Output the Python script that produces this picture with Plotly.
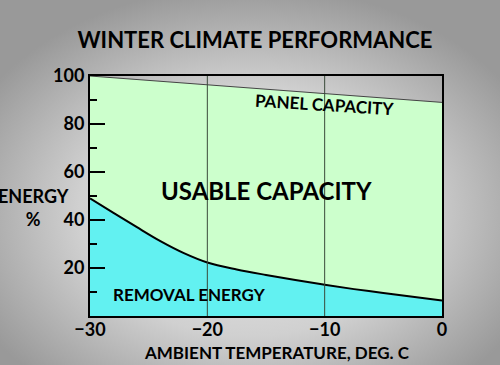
import base64
import plotly.graph_objects as go

# ---- data ----
temps_removal = [-30, -28, -26, -24, -22, -20, -17.5, -15, -12.5, -10, -7.5, -5, -2.5, 0]
removal_energy = [49, 43, 37, 31.2, 26.2, 22.3, 19.4, 17.1, 15, 13, 11.2, 9.6, 8, 6.5]
temps_panel = [-30, 0]
panel_capacity = [100, 89]
x_ticks = [-30, -20, -10, 0]
x_grid = [-20, -10]
y_ticks = [20, 40, 60, 80, 100]
y_minor = [10, 30, 50, 70, 90]

W, H = 500, 365
L, R, T, B = 90, 58, 76, 49
pw, ph = W - L - R, H - T - B

FONT = "Lato"
CYAN = "#62F1F1"
GREEN = "#CCFFCC"

# radial gray background
svg = f'''<svg xmlns="http://www.w3.org/2000/svg" width="{W}" height="{H}">
<defs><radialGradient id="g" cx="50%" cy="58%" r="62%">
<stop offset="0%" stop-color="#ececec"/><stop offset="55%" stop-color="#d0d0d0"/>
<stop offset="100%" stop-color="#999999"/></radialGradient></defs>
<rect width="{W}" height="{H}" fill="url(#g)"/></svg>'''
bg_src = "data:image/svg+xml;base64," + base64.b64encode(svg.encode()).decode()

fig = go.Figure()
fig.add_trace(go.Scatter(
    x=temps_removal, y=removal_energy, mode="lines", fill="tozeroy",
    fillcolor=CYAN, line=dict(color="black", width=2, shape="spline", smoothing=1),
    hoverinfo="skip", showlegend=False))
fig.add_trace(go.Scatter(
    x=temps_panel, y=panel_capacity, mode="lines", fill="tonexty",
    fillcolor=GREEN, line=dict(color="#444444", width=1),
    hoverinfo="skip", showlegend=False))

for gx in x_grid:
    fig.add_shape(type="line", xref="x", yref="y domain", x0=gx, x1=gx, y0=0, y1=1,
                  line=dict(color="#3a4a3a", width=1), layer="above")

fig.add_layout_image(dict(
    source=bg_src, xref="paper", yref="paper",
    x=-L / pw, y=1 + T / ph, sizex=W / pw, sizey=H / ph,
    sizing="stretch", xanchor="left", yanchor="top", layer="below"))

bold = dict(family=FONT, color="black", weight="bold")

def ann(text, x, y, size, xref="x", yref="y", angle=0):
    fig.add_annotation(text=text, x=x, y=y, xref=xref, yref=yref, showarrow=False,
                       font=dict(size=size, **bold), textangle=angle,
                       xanchor="center", yanchor="middle")

ann("USABLE CAPACITY", -15.0, 52.5, 24)
ann("PANEL CAPACITY", -10.0, 88.3, 17, angle=3.5)
ann("REMOVAL ENERGY", -21.5, 8.8, 17)
ann("ENERGY<br>%", (33 - L) / pw, (H - B - 207) / ph, 18, xref="paper", yref="paper")
ann("AMBIENT TEMPERATURE, DEG. C", (277 - L) / pw, -(352 - (H - B)) / ph, 17,
    xref="paper", yref="paper")

fig.update_layout(
    width=W, height=H,
    margin=dict(l=L, r=R, t=T, b=B, pad=0),
    paper_bgcolor="#c4c4c4", plot_bgcolor="rgba(0,0,0,0)",
    title=dict(text="WINTER CLIMATE PERFORMANCE", x=255 / W, y=1 - 40 / H,
               xanchor="center", yanchor="middle", font=dict(size=22, **bold)),
    xaxis=dict(range=[-30, 0], tickvals=x_ticks, ticks="", showgrid=False,
               zeroline=False, showline=True, mirror=True, linecolor="black",
               linewidth=2, tickfont=dict(size=18, **bold), ticklabelstandoff=-4),
    yaxis=dict(range=[0, 100], tickvals=y_ticks, ticks="inside", ticklen=15,
               tickwidth=1.5, tickcolor="black", showgrid=False, zeroline=False,
               showline=True, mirror=True, linecolor="black", linewidth=2,
               tickfont=dict(size=18, **bold),
               minor=dict(tickvals=y_minor, ticks="inside", ticklen=7,
                          tickwidth=1.5, tickcolor="black", showgrid=False)),
)

fig.write_html(
    "out.html",
    config={"displayModeBar": False, "staticPlot": True},
    post_script="document.body.style.margin='0';document.documentElement.style.overflow='hidden';",
)
